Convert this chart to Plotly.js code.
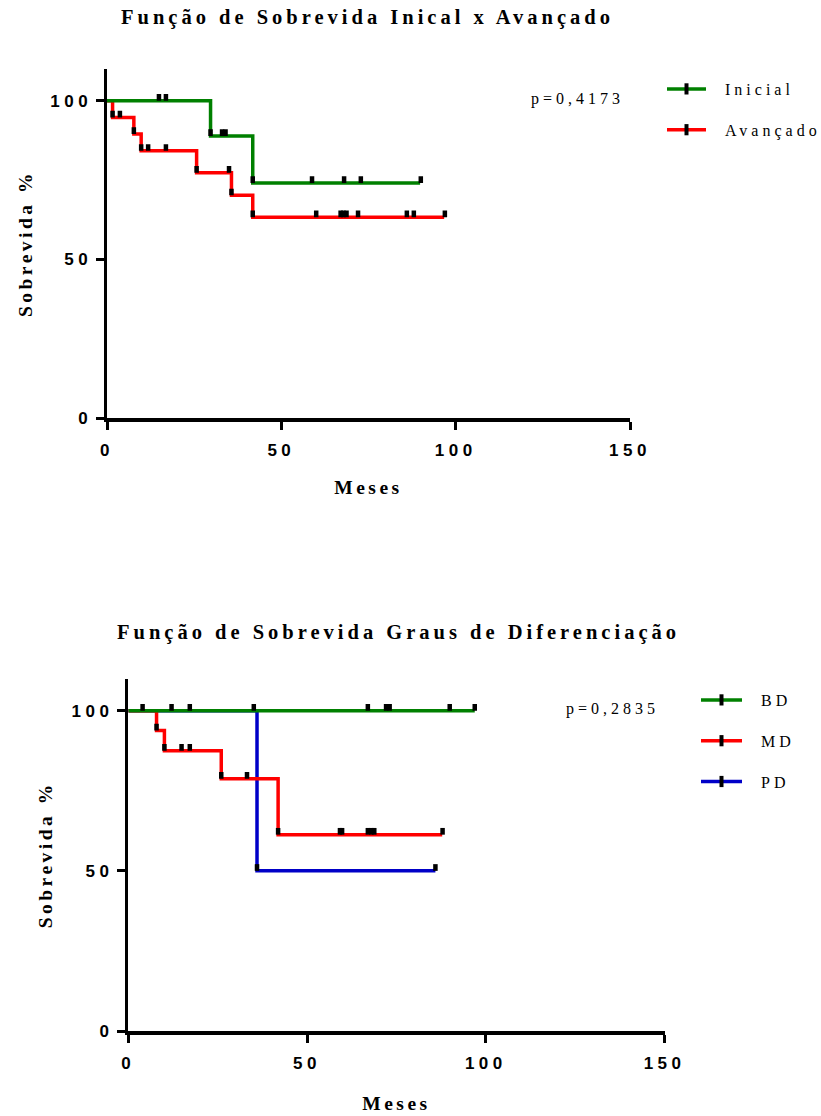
<!DOCTYPE html>
<html>
<head>
<meta charset="utf-8">
<script src="https://cdn.plot.ly/plotly-3.0.1.min.js"></script>
<style>
  html, body { margin: 0; padding: 0; background: #fff; }
  #chart { width: 821px; height: 1116px; }
  .xtick text, .ytick text, .x2tick text, .y2tick text { letter-spacing: 4.5px; }
  .xtitle, .ytitle, .x2title, .y2title { letter-spacing: 3.5px; }
  .annotation-text { letter-spacing: 4px; }
</style>
</head>
<body>
<div id="chart"></div>
<script>
// ---------- Data: top chart (Inicial x Avançado) ----------
const topTitle = "Função de Sobrevida Inical x Avançado";
const topPValue = "p=0,4173";
const inicialTimes = [0, 29.7, 41.8, 89.8];
const inicialSurv  = [100, 88.9, 74.1, 74.1];
const inicialCensor = [14.9, 16.9, 29.7, 33.0, 34.0, 41.8, 58.8, 68.0, 72.8, 90.0];

const avancadoTimes = [0, 1.6, 7.7, 9.8, 25.7, 35.7, 41.8, 96.7];
const avancadoSurv  = [100, 94.7, 89.5, 84.2, 77.3, 70.2, 63.3, 63.3];
const avancadoCensor = [1.6, 3.7, 7.7, 9.8, 11.8, 16.9, 25.7, 35.0, 35.7, 41.8, 60.0, 67.0, 67.8, 68.7, 72.0, 86.0, 88.0, 96.9];

// ---------- Data: bottom chart (Graus de Diferenciação) ----------
const botTitle = "Função de Sobrevida Graus de Diferenciação";
const botPValue = "p=0,2835";
const bdTimes = [0, 96.9];
const bdSurv  = [100, 100];
const bdCensor = [4.0, 12.1, 17.2, 35.1, 67.0, 72.1, 73.1, 89.9, 96.9];

const mdTimes = [0, 7.9, 10.1, 26.0, 41.9, 87.8];
const mdSurv  = [100, 93.8, 87.5, 78.8, 61.3, 61.3];
const mdCensor = [7.9, 10.1, 14.9, 17.2, 26.0, 33.2, 41.9, 59.2, 59.8, 67.0, 68.0, 68.8, 87.9];

const pdTimes = [0, 36.0, 85.9];
const pdSurv  = [100, 50, 50];
const pdCensor = [36.0, 85.9];

const xTickVals = [0, 50, 100, 150];
const yTickVals = [0, 50, 100];
const xTitle = "Meses";
const yTitle = "Sobrevida %";

// ---------- Styles ----------
const GREEN = "#008000", RED = "#ff0000", BLUE = "#0000c8";
const LW = 3.5;
const TICK_H = 2.1; // censor tick height (data units, upward)

function survAt(times, surv, t) {
  let v = surv[0];
  for (let i = 0; i < times.length; i++) if (times[i] <= t + 1e-9) v = surv[i];
  return v;
}
function stepTrace(times, surv, color, xa, ya) {
  return { x: times, y: surv, xaxis: xa, yaxis: ya, type: "scatter", mode: "lines",
           line: { shape: "hv", color: color, width: LW }, showlegend: false, hoverinfo: "skip" };
}
function censorTrace(times, surv, cens, xa, ya) {
  return { x: cens, y: cens.map(t => survAt(times, surv, t)), xaxis: xa, yaxis: ya,
           type: "scatter", mode: "markers", marker: { size: 1, opacity: 0 },
           error_y: { type: "data", symmetric: false, array: cens.map(() => TICK_H),
                      arrayminus: cens.map(() => 0), thickness: 4.5, width: 0, color: "#000" },
           showlegend: false, hoverinfo: "skip" };
}
function legendTrace(name, color, legend, group) {
  return { x: [null], y: [null], type: "scatter", mode: "lines+markers", name: name,
           legend: legend, legendgroup: group,
           line: { color: color, width: LW },
           marker: { symbol: "line-ns", size: 8, color: "#000", line: { color: "#000", width: 4 } },
           xaxis: legend === "legend" ? "x" : "x2", yaxis: legend === "legend" ? "y" : "y2",
           hoverinfo: "skip" };
}

const data = [
  stepTrace(avancadoTimes, avancadoSurv, RED, "x", "y"),
  stepTrace(inicialTimes, inicialSurv, GREEN, "x", "y"),
  stepTrace(pdTimes, pdSurv, BLUE, "x2", "y2"),
  stepTrace(mdTimes, mdSurv, RED, "x2", "y2"),
  stepTrace(bdTimes, bdSurv, GREEN, "x2", "y2"),
  censorTrace(inicialTimes, inicialSurv, inicialCensor, "x", "y"),
  censorTrace(avancadoTimes, avancadoSurv, avancadoCensor, "x", "y"),
  censorTrace(bdTimes, bdSurv, bdCensor, "x2", "y2"),
  censorTrace(mdTimes, mdSurv, mdCensor, "x2", "y2"),
  censorTrace(pdTimes, pdSurv, pdCensor, "x2", "y2"),
  legendTrace("Inicial", GREEN, "legend", "a"),
  legendTrace("Avançado", RED, "legend", "b"),
  legendTrace("BD", GREEN, "legend2", "c"),
  legendTrace("MD", RED, "legend2", "d"),
  legendTrace("PD", BLUE, "legend2", "e")
];

const W = 821, H = 1116;
const px = v => v / W;
const py = v => (H - v) / H;

const tickFont = { family: "Liberation Sans, Arial, sans-serif", size: 17, color: "#000", weight: "bold" };
const titleFont = { family: "Liberation Serif, Times New Roman, serif", size: 20.5, color: "#000", weight: "bold" };
const axisTitleFont = { family: "Liberation Serif, Times New Roman, serif", size: 19.5, color: "#000", weight: "bold" };
const serifFont = { family: "Liberation Serif, Times New Roman, serif", size: 16, color: "#000" };

function xAxis(domain, standoff) {
  return { domain: domain, range: [0, 150], tickvals: xTickVals, ticks: "outside", ticklen: 8, tickwidth: 3,
           tickcolor: "#000", showline: true, linewidth: LW, linecolor: "#000", showgrid: false, zeroline: false,
           tickfont: tickFont, fixedrange: true, ticklabelstandoff: 6,
           title: { text: xTitle, font: axisTitleFont, standoff: standoff } };
}
function yAxis(domain, anchor, standoff) {
  return { domain: domain, range: [0, 110], tickvals: yTickVals, ticks: "outside", ticklen: 8, tickwidth: 3,
           tickcolor: "#000", showline: true, linewidth: LW, linecolor: "#000", showgrid: false, zeroline: false,
           tickfont: tickFont, fixedrange: true, anchor: anchor,
           title: { text: yTitle, font: axisTitleFont, standoff: standoff } };
}

const layout = {
  width: W, height: H,
  margin: { l: 0, r: 0, t: 0, b: 0 },
  paper_bgcolor: "#fff", plot_bgcolor: "#fff",
  xaxis: Object.assign(xAxis([px(107), px(630)], 22), { anchor: "y" }),
  yaxis: yAxis([py(418.3), py(68.9)], "x", 13),
  xaxis2: Object.assign(xAxis([px(128.3), px(664.6)], 25), { anchor: "y2" }),
  yaxis2: yAxis([py(1031), py(678.7)], "x2", 14),
  legend: { x: px(662), y: py(72), xanchor: "left", yanchor: "top", font: serifFont,
            itemwidth: 39, traceorder: "grouped", tracegroupgap: 17, bgcolor: "rgba(0,0,0,0)" },
  legend2: { x: px(696), y: py(683), xanchor: "left", yanchor: "top", font: serifFont,
             itemwidth: 41, traceorder: "grouped", tracegroupgap: 17, bgcolor: "rgba(0,0,0,0)" },
  annotations: [
    { text: topTitle, xref: "paper", yref: "paper", x: px(367), y: py(18), showarrow: false,
      xanchor: "center", yanchor: "middle", font: titleFont },
    { text: botTitle, xref: "paper", yref: "paper", x: px(398), y: py(632), showarrow: false,
      xanchor: "center", yanchor: "middle", font: titleFont },
    { text: topPValue, xref: "paper", yref: "paper", x: px(577), y: py(99), showarrow: false,
      xanchor: "center", yanchor: "middle", font: serifFont },
    { text: botPValue, xref: "paper", yref: "paper", x: px(612), y: py(709), showarrow: false,
      xanchor: "center", yanchor: "middle", font: serifFont }
  ]
};

Plotly.newPlot("chart", data, layout, { staticPlot: true, displayModeBar: false }).then(function () {
  // widen legend lettering after layout so the legends do not push the plot margins,
  // and let the spaced text show past each legend's measured box
  const legendGroups = document.querySelectorAll('.infolayer > g[class^="legend"]');
  legendGroups.forEach(function (g) {
    g.removeAttribute("clip-path");
    g.querySelectorAll("[clip-path]").forEach(function (c) { c.removeAttribute("clip-path"); });
    g.querySelectorAll("text").forEach(function (t) {
      t.style.letterSpacing = "4px";
      t.style.transform = "translateX(14px)";
    });
  });
});
</script>
</body>
</html>
